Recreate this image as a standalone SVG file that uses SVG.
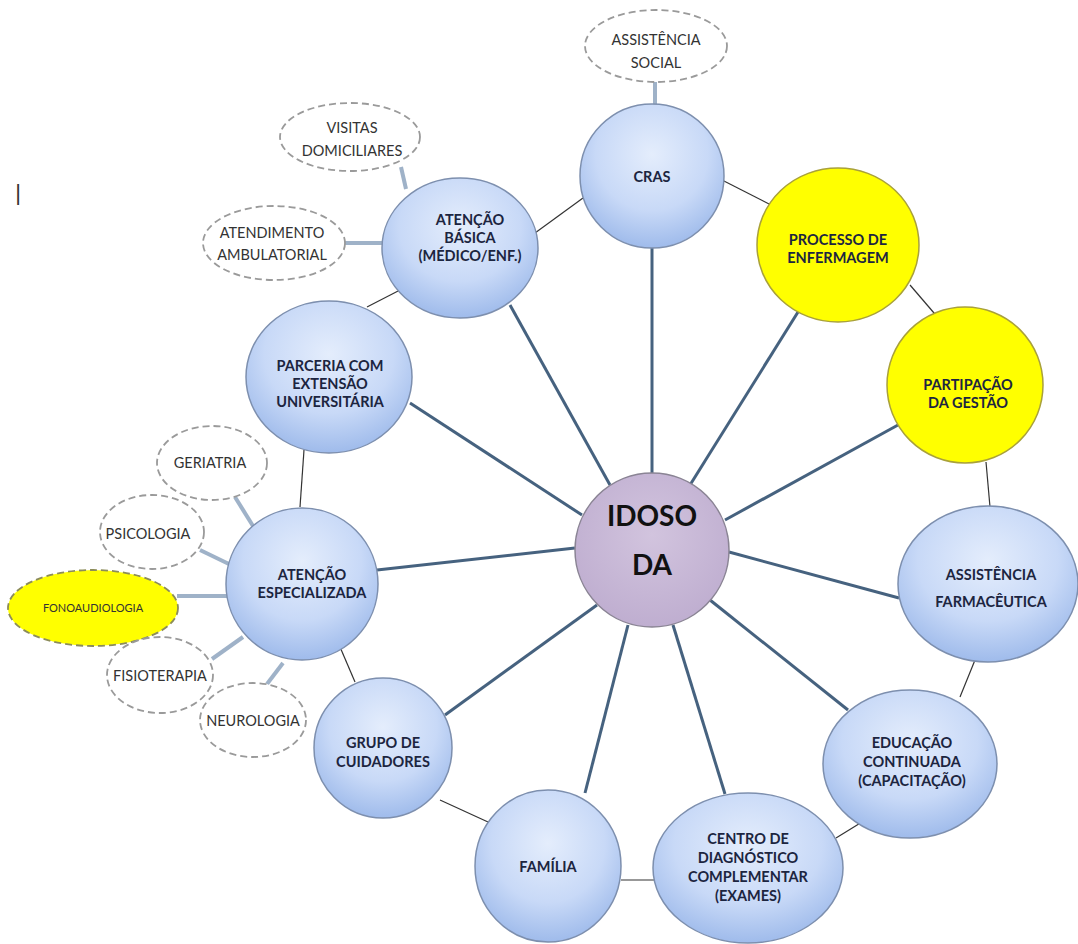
<svg xmlns="http://www.w3.org/2000/svg" width="1078" height="944" viewBox="0 0 1078 944">
<defs>
<radialGradient id="blue" cx="0.5" cy="0.35" r="0.65">
<stop offset="0" stop-color="#e4edfc"/>
<stop offset="0.6" stop-color="#c8d9f7"/>
<stop offset="1" stop-color="#9fbbeb"/>
</radialGradient>
<radialGradient id="lav" cx="0.5" cy="0.4" r="0.6">
<stop offset="0" stop-color="#d2c4de"/>
<stop offset="1" stop-color="#bfaed0"/>
</radialGradient>
<style>
.n{fill:url(#blue);stroke:#7d8fae;stroke-width:1.5}
.y{fill:#ffff00;stroke:#a9a13a;stroke-width:1.5}
.d{fill:#ffffff;stroke:#9a9a9a;stroke-width:1.8;stroke-dasharray:7 4}
.dy{fill:#ffff00;stroke:#8c8c5a;stroke-width:1.8;stroke-dasharray:7 4}
.t{font-family:Lato,"Liberation Sans",sans-serif;font-weight:bold;font-size:14.5px;fill:#1c2540;text-anchor:middle}
.s{font-family:Lato,"Liberation Sans",sans-serif;font-size:14.5px;fill:#333;text-anchor:middle}
.sp{stroke:#46627f;stroke-width:3;fill:none}
.r{stroke:#333;stroke-width:1.2;fill:none}
.c{stroke:#9fb2c8;stroke-width:4;fill:none}
</style>
</defs>
<rect width="1078" height="944" fill="#ffffff"/>
<text x="18" y="200" font-family="Liberation Sans,sans-serif" font-size="22" fill="#333" text-anchor="middle">|</text>
<g id="connectors">
<line class="sp" x1="652" y1="247" x2="652" y2="473"/>
<line class="sp" x1="798" y1="312" x2="690" y2="485"/>
<line class="sp" x1="898" y1="425" x2="725" y2="520"/>
<line class="sp" x1="899" y1="598" x2="729" y2="552"/>
<line class="sp" x1="848" y1="710" x2="710" y2="600"/>
<line class="sp" x1="725" y1="794" x2="673" y2="625"/>
<line class="sp" x1="585" y1="793" x2="628" y2="625"/>
<line class="sp" x1="445" y1="715" x2="597" y2="605"/>
<line class="sp" x1="377" y1="570" x2="575" y2="548"/>
<line class="sp" x1="410" y1="403" x2="582" y2="515"/>
<line class="sp" x1="510" y1="305" x2="610" y2="485"/>
<line class="r" x1="535" y1="233" x2="583" y2="198"/>
<line class="r" x1="722" y1="180" x2="771" y2="205"/>
<line class="r" x1="910" y1="285" x2="940" y2="320"/>
<line class="r" x1="986" y1="462" x2="990" y2="507"/>
<line class="r" x1="975" y1="660" x2="960" y2="697"/>
<line class="r" x1="862" y1="822" x2="836" y2="838"/>
<line class="r" x1="621" y1="880" x2="655" y2="880"/>
<line class="r" x1="440" y1="800" x2="488" y2="822"/>
<line class="r" x1="340" y1="647" x2="355" y2="682"/>
<line class="r" x1="300" y1="507" x2="304" y2="450"/>
<line class="r" x1="367" y1="307" x2="400" y2="290"/>
<line class="c" x1="655" y1="82" x2="655" y2="106"/>
<line class="c" x1="401" y1="167" x2="406" y2="189"/>
<line class="c" x1="345" y1="243" x2="383" y2="243"/>
<line class="c" x1="235" y1="497" x2="253" y2="526"/>
<line class="c" x1="200" y1="550" x2="231" y2="565"/>
<line class="c" x1="177" y1="596" x2="227" y2="596"/>
<line class="c" x1="212" y1="659" x2="243" y2="637"/>
<line class="c" x1="267" y1="684" x2="283" y2="663"/>
</g>
<g id="idoso">
<circle cx="652" cy="550" r="77" fill="url(#lav)" stroke="#8a8494" stroke-width="1.5"/>
<text x="652" y="526" font-family="Lato,Liberation Sans,sans-serif" font-weight="bold" font-size="28" fill="#111" text-anchor="middle">IDOSO</text>
<text x="652" y="575" font-family="Lato,Liberation Sans,sans-serif" font-weight="bold" font-size="28" fill="#111" text-anchor="middle">DA</text>
</g>
<g id="cras">
<circle class="n" cx="652" cy="176" r="72"/>
<text class="t" x="652" y="182">CRAS</text>
</g>
<g id="processo">
<ellipse class="y" cx="838" cy="245" rx="81" ry="77"/>
<text class="t" x="838" y="245">PROCESSO DE</text>
<text class="t" x="838" y="263">ENFERMAGEM</text>
</g>
<g id="gestao">
<ellipse class="y" cx="965" cy="385" rx="78" ry="78"/>
<text class="t" x="968" y="390">PARTIPAÇÃO</text>
<text class="t" x="968" y="408">DA GESTÃO</text>
</g>
<g id="farmaceutica">
<ellipse class="n" cx="988" cy="584" rx="90" ry="78"/>
<text class="t" x="991" y="580">ASSISTÊNCIA</text>
<text class="t" x="991" y="607">FARMACÊUTICA</text>
</g>
<g id="educacao">
<ellipse class="n" cx="910" cy="764" rx="87" ry="74"/>
<text class="t" x="912" y="748">EDUCAÇÃO</text>
<text class="t" x="912" y="767">CONTINUADA</text>
<text class="t" x="912" y="786">(CAPACITAÇÃO)</text>
</g>
<g id="centro">
<ellipse class="n" cx="748" cy="868" rx="95" ry="75"/>
<text class="t" x="748" y="844">CENTRO DE</text>
<text class="t" x="748" y="863">DIAGNÓSTICO</text>
<text class="t" x="748" y="882">COMPLEMENTAR</text>
<text class="t" x="748" y="901">(EXAMES)</text>
</g>
<g id="familia">
<ellipse class="n" cx="548" cy="866" rx="73" ry="76"/>
<text class="t" x="548" y="872">FAMÍLIA</text>
</g>
<g id="cuidadores">
<ellipse class="n" cx="383" cy="748" rx="69" ry="70"/>
<text class="t" x="383" y="748">GRUPO DE</text>
<text class="t" x="383" y="767">CUIDADORES</text>
</g>
<g id="especializada">
<circle class="n" cx="302" cy="584" r="76"/>
<text class="t" x="312" y="580">ATENÇÃO</text>
<text class="t" x="312" y="598">ESPECIALIZADA</text>
</g>
<g id="parceria">
<ellipse class="n" cx="329" cy="377" rx="83" ry="76"/>
<text class="t" x="330" y="371">PARCERIA COM</text>
<text class="t" x="330" y="389">EXTENSÃO</text>
<text class="t" x="330" y="407">UNIVERSITÁRIA</text>
</g>
<g id="basica">
<ellipse class="n" cx="460" cy="248" rx="78" ry="70"/>
<text class="t" x="470" y="225">ATENÇÃO</text>
<text class="t" x="470" y="243">BÁSICA</text>
<text class="t" x="470" y="261">(MÉDICO/ENF.)</text>
</g>
<g id="assistencia-social">
<ellipse class="d" cx="656" cy="46" rx="71" ry="36"/>
<text class="s" x="656" y="45">ASSISTÊNCIA</text>
<text class="s" x="656" y="68">SOCIAL</text>
</g>
<g id="visitas">
<ellipse class="d" cx="350" cy="137" rx="70" ry="34"/>
<text class="s" x="352" y="133">VISITAS</text>
<text class="s" x="352" y="156">DOMICILIARES</text>
</g>
<g id="ambulatorial">
<ellipse class="d" cx="274" cy="243" rx="71" ry="37"/>
<text class="s" x="272" y="238">ATENDIMENTO</text>
<text class="s" x="272" y="260">AMBULATORIAL</text>
</g>
<g id="geriatria">
<ellipse class="d" cx="212" cy="463" rx="55" ry="37"/>
<text class="s" x="210" y="468">GERIATRIA</text>
</g>
<g id="psicologia">
<ellipse class="d" cx="152" cy="532" rx="52" ry="37"/>
<text class="s" x="148" y="539">PSICOLOGIA</text>
</g>
<g id="fonoaudiologia">
<ellipse class="dy" cx="93" cy="608" rx="85" ry="38"/>
<text x="93" y="612" font-family="Lato,Liberation Sans,sans-serif" font-size="11" fill="#333" text-anchor="middle">FONOAUDIOLOGIA</text>
</g>
<g id="fisioterapia">
<ellipse class="d" cx="160" cy="675" rx="53" ry="38"/>
<text class="s" x="160" y="681">FISIOTERAPIA</text>
</g>
<g id="neurologia">
<ellipse class="d" cx="253" cy="720" rx="53" ry="37"/>
<text class="s" x="253" y="726">NEUROLOGIA</text>
</g>
</svg>
